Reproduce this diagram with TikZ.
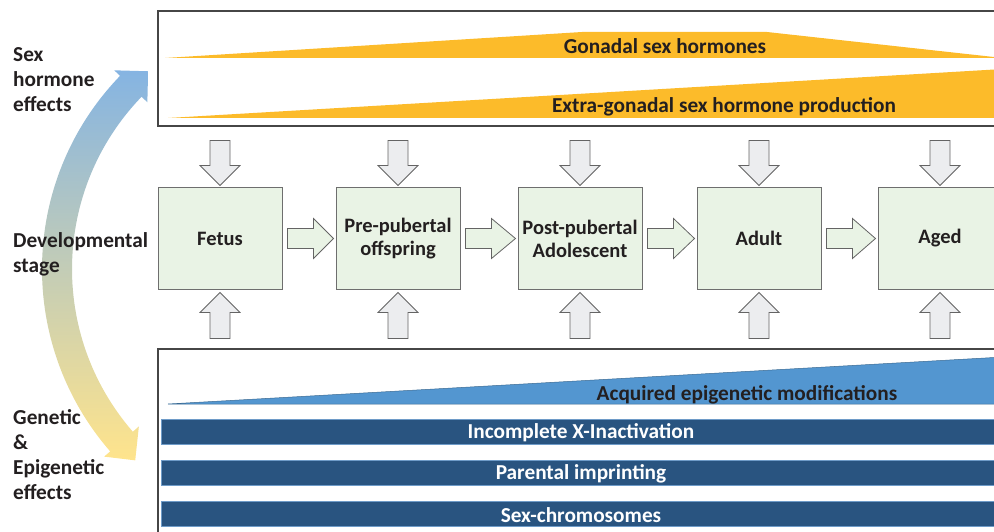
\documentclass[tikz,border=0pt]{standalone}
\usepackage{fontspec}
\setmainfont{Carlito}
\usetikzlibrary{calc}
\definecolor{hormoneyellow}{RGB}{252,187,42}
\definecolor{boxgreen}{RGB}{233,243,229}
\definecolor{boxedge}{RGB}{110,110,110}
\definecolor{arrowgray}{RGB}{236,237,239}
\definecolor{arrowedge}{RGB}{100,100,100}
\definecolor{paneledge}{RGB}{70,70,70}
\definecolor{barblue}{RGB}{41,84,128}
\definecolor{baredge}{RGB}{110,155,200}
\definecolor{epiblue}{RGB}{83,150,208}
\definecolor{textdark}{RGB}{35,31,32}
\definecolor{curvetop}{RGB}{133,180,226}
\definecolor{curvebottom}{RGB}{255,228,140}

\begin{document}
\begin{tikzpicture}[
  x=1pt, y=-1pt,
  font=\fontsize{21.3}{25}\selectfont\bfseries,
  stagebox/.style={rectangle, draw=boxedge, fill=boxgreen, line width=1pt, minimum width=124pt, minimum height=101pt, align=center, inner sep=0pt, text=textdark, font=\fontsize{20.5}{23}\selectfont\bfseries},
  panel/.style={draw=paneledge, line width=1.2pt},
  wedge/.style={fill=hormoneyellow},
  bar/.style={fill=barblue, draw=baredge, line width=1pt},
  barlabel/.style={text=white, inner sep=0pt},
  wedgelabel/.style={text=textdark, inner sep=0pt},
  sidelabel/.style={anchor=west, align=left, inner sep=0pt, text=textdark},
  stagearrow/.style={draw=arrowedge, fill=boxgreen, line width=0.8pt},
  inputarrow/.style={draw=arrowedge, fill=arrowgray, line width=0.8pt}
]
\useasboundingbox (0,0) rectangle (994,532);
\clip (0,0) rectangle (994,532);

% curved arrow on the left
\coordinate (c) at (320,269);
\shade[top color=curvetop, bottom color=curvebottom]
  ($(c)+(139:248)$) arc[start angle=139, end angle=224, radius=248]
  -- ($(c)+(224:240)$) -- ($(c)+(229:262)$) -- ($(c)+(224:286)$)
  -- ($(c)+(224:278)$) arc[start angle=224, end angle=139, radius=278]
  -- ($(c)+(139:286)$) -- ($(c)+(134:266)$) -- ($(c)+(139:240)$) -- cycle;

% side labels
\node[sidelabel] (sexlbl) at (13,80) {Sex\\hormone\\effects};
\node[sidelabel] (devlbl) at (13,254) {Developmental\\stage};
\node[sidelabel] (genlbl) at (13,455) {Genetic\\\&\\Epigenetic\\effects};

% sex hormone panel
\draw[panel] (1010,11) -- (158,11) -- (158,126) -- (1010,126);
\fill[wedge] (165,58) -- (582,32) -- (767,32) -- (1003,58) -- cycle;
\fill[wedge] (168,118) -- (1003,69) -- (1003,118) -- cycle;
\node[wedgelabel] (gonad) at (665,46.5) {Gonadal sex hormones};
\node[wedgelabel] (extra) at (724,107) {Extra-gonadal sex hormone production};

% genetic panel
\draw[panel] (1010,349) -- (158,349) -- (158,540);
\fill[epiblue, draw=epiblue!70!black, line width=0.5pt] (168,404) -- (1003,357) -- (1003,404) -- cycle;
\node[wedgelabel] (epi) at (747,395) {Acquired epigenetic modifications};
\foreach \y/\name/\txt in {419/xinact/Incomplete X-Inactivation, 460/imprint/Parental imprinting, 501/sexchr/Sex-chromosomes} {
  \draw[bar] (161,\y) rectangle (1003,\y+25);
  \node[barlabel] (\name) at (581,\y+14) {\txt};
}

% developmental stages
\foreach \name/\x/\txt in {fetus/220/Fetus, prepub/398/Pre-pubertal\\offspring, postpub/580/Post-pubertal\\Adolescent, adult/759/Adult, aged/940/Aged} {
  \node[stagebox] (\name) at (\x,238.5) {\txt};
  % hormone input from above
  \draw[inputarrow] ($(\name.north)+(-10,-47)$) -- ($(\name.north)+(-10,-22)$) -- ($(\name.north)+(-20,-22)$)
    -- ($(\name.north)+(0,-2)$) -- ($(\name.north)+(20,-22)$) -- ($(\name.north)+(10,-22)$) -- ($(\name.north)+(10,-47)$) -- cycle;
  % genetic input from below
  \draw[inputarrow] ($(\name.south)+(-10,49)$) -- ($(\name.south)+(-10,23)$) -- ($(\name.south)+(-20,23)$)
    -- ($(\name.south)+(0,3)$) -- ($(\name.south)+(20,23)$) -- ($(\name.south)+(10,23)$) -- ($(\name.south)+(10,49)$) -- cycle;
}

% stage transitions
\foreach \a/\b in {fetus/prepub, prepub/postpub, postpub/adult, adult/aged} {
  \draw[stagearrow] ($(\a.east)+(5,-10)$) -- ($(\a.east)+(31,-10)$) -- ($(\a.east)+(31,-20)$)
    -- ($(\b.west)+(-2,0)$) -- ($(\a.east)+(31,20)$) -- ($(\a.east)+(31,10)$) -- ($(\a.east)+(5,10)$) -- cycle;
}

\end{tikzpicture}
\end{document}
